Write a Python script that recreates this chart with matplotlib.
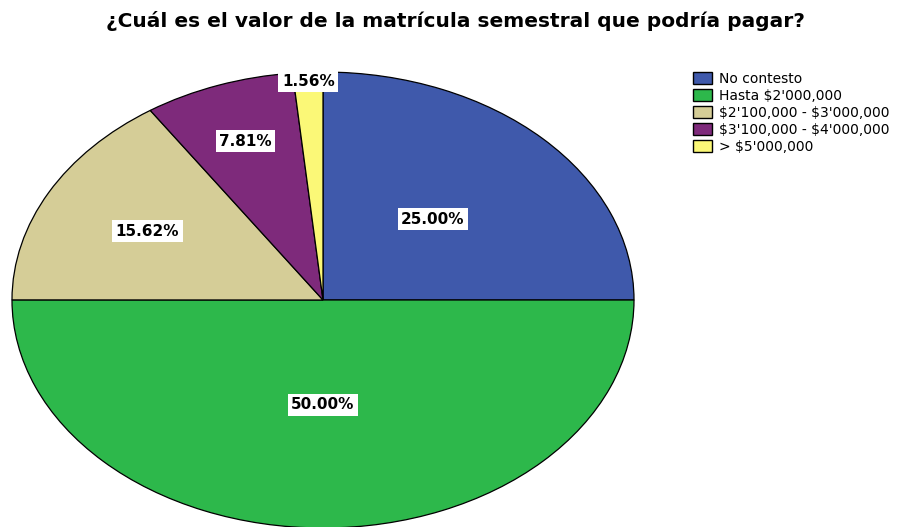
import numpy as np
import matplotlib.pyplot as plt

plt.rcParams['font.family'] = ['DejaVu Sans']
plt.rcParams['text.parse_math'] = False

categories = ["No contesto", "Hasta $2'000,000", "$2'100,000 - $3'000,000",
              "$3'100,000 - $4'000,000", "> $5'000,000"]
percentages = [25.00, 50.00, 15.62, 7.81, 1.56]
pct_labels = ["25.00%", "50.00%", "15.62%", "7.81%", "1.56%"]
colors = ["#3f59ab", "#2db84b", "#d5cd97", "#7e2a7b", "#fbf877"]
label_dist = [0.50, 0.46, 0.64, 0.74, 0.96]

fig = plt.figure(figsize=(9.01, 5.27), dpi=100)
# elliptical pie: centre ~ (323, 300) px, radii 311 x 228 px
ax = fig.add_axes([12 / 901, -1 / 527, 622 / 901, 456 / 527])

wedges, _ = ax.pie(percentages, colors=colors, startangle=90, counterclock=False,
                   radius=1, wedgeprops=dict(edgecolor='black', linewidth=0.9))
ax.set_aspect('auto')
ax.set_xlim(-1, 1)
ax.set_ylim(-1, 1)
ax.axis('off')

for w, lab, d in zip(wedges, pct_labels, label_dist):
    ang = np.deg2rad((w.theta1 + w.theta2) / 2)
    ax.text(d * np.cos(ang), d * np.sin(ang), lab, ha='center', va='center',
            fontsize=11, fontweight='bold',
            bbox=dict(facecolor='white', edgecolor='none', pad=2.5))

fig.text(455 / 901, 1 - 21 / 527, "¿Cuál es el valor de la matrícula semestral que podría pagar?",
         ha='center', va='center', fontsize=14.5, fontweight='bold')

leg = fig.legend(wedges, categories, loc='upper left', bbox_to_anchor=(690 / 901, 1 - 69 / 527),
                 frameon=False, fontsize=10, labelspacing=0.22, handlelength=1.4,
                 handleheight=0.95, handletextpad=0.5, borderpad=0.2, borderaxespad=0)
for h in leg.legend_handles:
    h.set_linewidth(1.0)

fig.savefig('out.png', dpi=100)
